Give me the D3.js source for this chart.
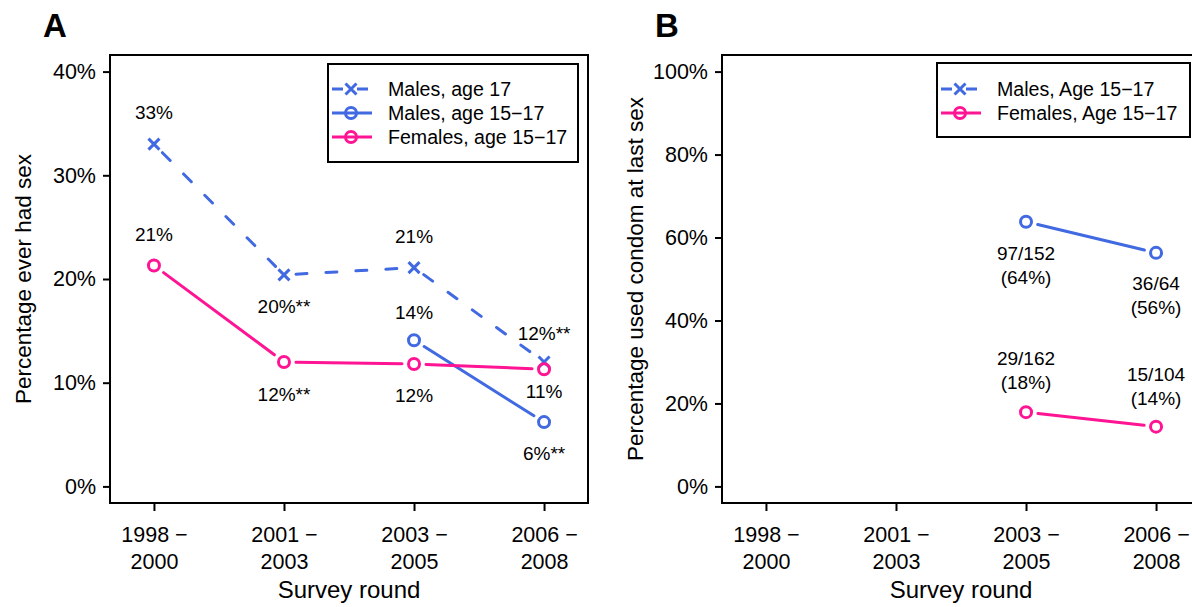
<!DOCTYPE html>
<html>

<head>
    <meta charset="utf-8" />
    <script src="https://cdnjs.cloudflare.com/ajax/libs/d3/7.8.5/d3.min.js"></script>
    <title>Sexual behaviour by survey round</title>
    <style>
        html,
        body {
            margin: 0;
            padding: 0;
            background: #fff;
        }

        svg {
            display: block;
            font-family: "Liberation Sans", Arial, Helvetica, sans-serif;
        }
    </style>
</head>

<body>
    <div id="chart"></div>
    <script>
        // survey rounds (two-line tick labels)
        var roundTop = ["1998 \u2212", "2001 \u2212", "2003 \u2212", "2006 \u2212"];
        var roundBottom = ["2000", "2003", "2005", "2008"];

        // panel A: percentage ever had sex
        var everMales17 = [33.0, 20.4, 21.1, 12.0];
        var everMales1517 = [null, null, 14.1, 6.2];
        var everFemales1517 = [21.3, 12.0, 11.8, 11.3];
        var everMales17Labels = ["33%", "20%**", "21%", "12%**"];
        var everMales1517Labels = [null, null, "14%", "6%**"];
        var everFemales1517Labels = ["21%", "12%**", "12%", "11%"];
        var ticksA = [0, 10, 20, 30, 40];

        // panel B: percentage used condom at last sex
        var condomMales = [null, null, 63.8, 56.3];
        var condomFemales = [null, null, 17.9, 14.4];
        var condomMalesLabels = [null, null, ["97/152", "(64%)"], ["36/64", "(56%)"]];
        var condomFemalesLabels = [null, null, ["29/162", "(18%)"], ["15/104", "(14%)"]];
        var ticksB = [0, 20, 40, 60, 80, 100];

        var BLUE = '#4169e1';
        var PINK = '#ff1493';
        var DASH = '11,19';
        var GAP = 12;

        var svg = d3.select('#chart').append('svg')
            .attr('width', 1192)
            .attr('height', 607);

        function makePanel(left, right, yMax, ticks, yTitle, letter) {
            var top = 55, bottom = 503;
            var x = d3.scaleLinear().domain([-0.338, 3.338]).range([left, right]);
            var pad = yMax * 0.04;
            var y = d3.scaleLinear().domain([-pad, yMax + pad]).range([bottom, top]);
            var g = svg.append('g');

            var ax = g.append('g')
                .attr('transform', 'translate(' + left + ',0)')
                .call(d3.axisLeft(y).tickValues(ticks).tickFormat(d => d + '%').tickSize(7).tickPadding(7));
            var bx = g.append('g')
                .attr('transform', 'translate(0,' + bottom + ')')
                .call(d3.axisBottom(x).tickValues([0, 1, 2, 3]).tickSize(8).tickFormat(''));

            [ax, bx].forEach(function (a) {
                a.attr('font-family', null);
                a.select('.domain').remove();
                a.selectAll('line').attr('stroke', '#000').attr('stroke-width', 2);
                a.selectAll('text').attr('fill', '#000');
            });
            ax.selectAll('text').style('font-size', '21.5px');

            bx.selectAll('.tick').each(function (d) {
                var t = d3.select(this).select('text')
                    .attr('dy', null).attr('y', null)
                    .style('font-size', '21.5px');
                t.append('tspan').attr('x', 0).attr('y', 39).text(roundTop[d]);
                t.append('tspan').attr('x', 0).attr('y', 66).text(roundBottom[d]);
            });

            g.append('rect')
                .attr('x', left).attr('y', top)
                .attr('width', right - left).attr('height', bottom - top)
                .attr('fill', 'none').attr('stroke', '#000').attr('stroke-width', 2);

            g.append('text')
                .attr('x', (left + right) / 2).attr('y', 598)
                .attr('text-anchor', 'middle')
                .style('font-size', '24px')
                .text('Survey round');

            g.append('text')
                .attr('transform', 'translate(' + (left - 79) + ',' + (top + bottom) / 2 + ') rotate(-90)')
                .attr('text-anchor', 'middle')
                .style('font-size', '22.5px')
                .text(yTitle);

            g.append('text')
                .attr('x', left - 67).attr('y', 37)
                .style('font-size', '33px').style('font-weight', 'bold')
                .text(letter);

            return { g: g, x: x, y: y };
        }

        function drawMarker(g, cx, cy, type, color) {
            if (type === 'x') {
                var s = 5.5;
                g.append('path')
                    .attr('d', 'M' + (cx - s) + ',' + (cy - s) + 'L' + (cx + s) + ',' + (cy + s) +
                        'M' + (cx - s) + ',' + (cy + s) + 'L' + (cx + s) + ',' + (cy - s))
                    .attr('stroke', color).attr('stroke-width', 3).attr('fill', 'none');
            } else {
                g.append('circle')
                    .attr('cx', cx).attr('cy', cy).attr('r', 5.5)
                    .attr('stroke', color).attr('stroke-width', 3).attr('fill', 'none');
            }
        }

        function drawSeries(p, values, color, dashed, marker) {
            var pts = values.map((v, i) => v == null ? null : [p.x(i), p.y(v)]);
            var g = p.g.append('g');
            for (var i = 0; i < pts.length - 1; i++) {
                var a = pts[i], b = pts[i + 1];
                if (!a || !b) continue;
                var dx = b[0] - a[0], dy = b[1] - a[1];
                var len = Math.sqrt(dx * dx + dy * dy);
                var ux = dx / len, uy = dy / len;
                g.append('line')
                    .attr('x1', a[0] + ux * GAP).attr('y1', a[1] + uy * GAP)
                    .attr('x2', b[0] - ux * GAP).attr('y2', b[1] - uy * GAP)
                    .attr('stroke', color).attr('stroke-width', 3)
                    .attr('stroke-linecap', 'round')
                    .attr('stroke-dasharray', dashed ? DASH : null);
            }
            pts.forEach(function (pt) {
                if (pt) drawMarker(g, pt[0], pt[1], marker, color);
            });
        }

        // label baseline offsets in px relative to the point
        function drawLabels(p, values, labels, offsets, lineGap) {
            values.forEach(function (v, i) {
                if (v == null || labels[i] == null) return;
                var lines = Array.isArray(labels[i]) ? labels[i] : [labels[i]];
                lines.forEach(function (txt, k) {
                    p.g.append('text')
                        .attr('x', p.x(i))
                        .attr('y', p.y(v) + offsets[i] + k * (lineGap || 0))
                        .attr('text-anchor', 'middle')
                        .style('font-size', '19px')
                        .text(txt);
                });
            });
        }

        function drawLegend(g, x0, y0, w, h, rowStart, entries) {
            g.append('rect')
                .attr('x', x0).attr('y', y0).attr('width', w).attr('height', h)
                .attr('fill', '#fff').attr('stroke', '#000').attr('stroke-width', 2);
            entries.forEach(function (e, i) {
                var cy = rowStart + i * 24;
                g.append('line')
                    .attr('x1', x0 + 4).attr('x2', x0 + 44)
                    .attr('y1', cy).attr('y2', cy)
                    .attr('stroke', e.color).attr('stroke-width', 3)
                    .attr('stroke-dasharray', e.dashed ? '11,14' : null);
                drawMarker(g, x0 + 23, cy, e.marker, e.color);
                g.append('text')
                    .attr('x', x0 + 60).attr('y', cy)
                    .attr('dominant-baseline', 'central')
                    .style('font-size', '19.6px')
                    .text(e.label);
            });
        }

        // ---- panel A
        var pA = makePanel(110, 588, 40, ticksA, 'Percentage ever had sex', 'A');
        drawSeries(pA, everMales17, BLUE, true, 'x');
        drawSeries(pA, everMales1517, BLUE, false, 'o');
        drawSeries(pA, everFemales1517, PINK, false, 'o');
        drawLabels(pA, everMales17, everMales17Labels, [-25, 38, -25, -22]);
        drawLabels(pA, everMales1517, everMales1517Labels, [0, 0, -21, 38]);
        drawLabels(pA, everFemales1517, everFemales1517Labels, [-25, 39, 38, 29]);
        drawLegend(pA.g, 328, 64, 250, 98, 89, [
            { label: 'Males, age 17', color: BLUE, dashed: true, marker: 'x' },
            { label: 'Males, age 15\u221217', color: BLUE, dashed: false, marker: 'o' },
            { label: 'Females, age 15\u221217', color: PINK, dashed: false, marker: 'o' }
        ]);

        // ---- panel B
        var pB = makePanel(722, 1200, 100, ticksB, 'Percentage used condom at last sex', 'B');
        drawSeries(pB, condomMales, BLUE, false, 'o');
        drawSeries(pB, condomFemales, PINK, false, 'o');
        drawLabels(pB, condomMales, condomMalesLabels, [0, 0, 38, 37], 24);
        drawLabels(pB, condomFemales, condomFemalesLabels, [0, 0, -47, -46], 24);
        drawLegend(pB.g, 937, 63, 253, 74, 89, [
            { label: 'Males, Age 15\u221217', color: BLUE, dashed: true, marker: 'x' },
            { label: 'Females, Age 15\u221217', color: PINK, dashed: false, marker: 'o' }
        ]);
    </script>
</body>

</html>
